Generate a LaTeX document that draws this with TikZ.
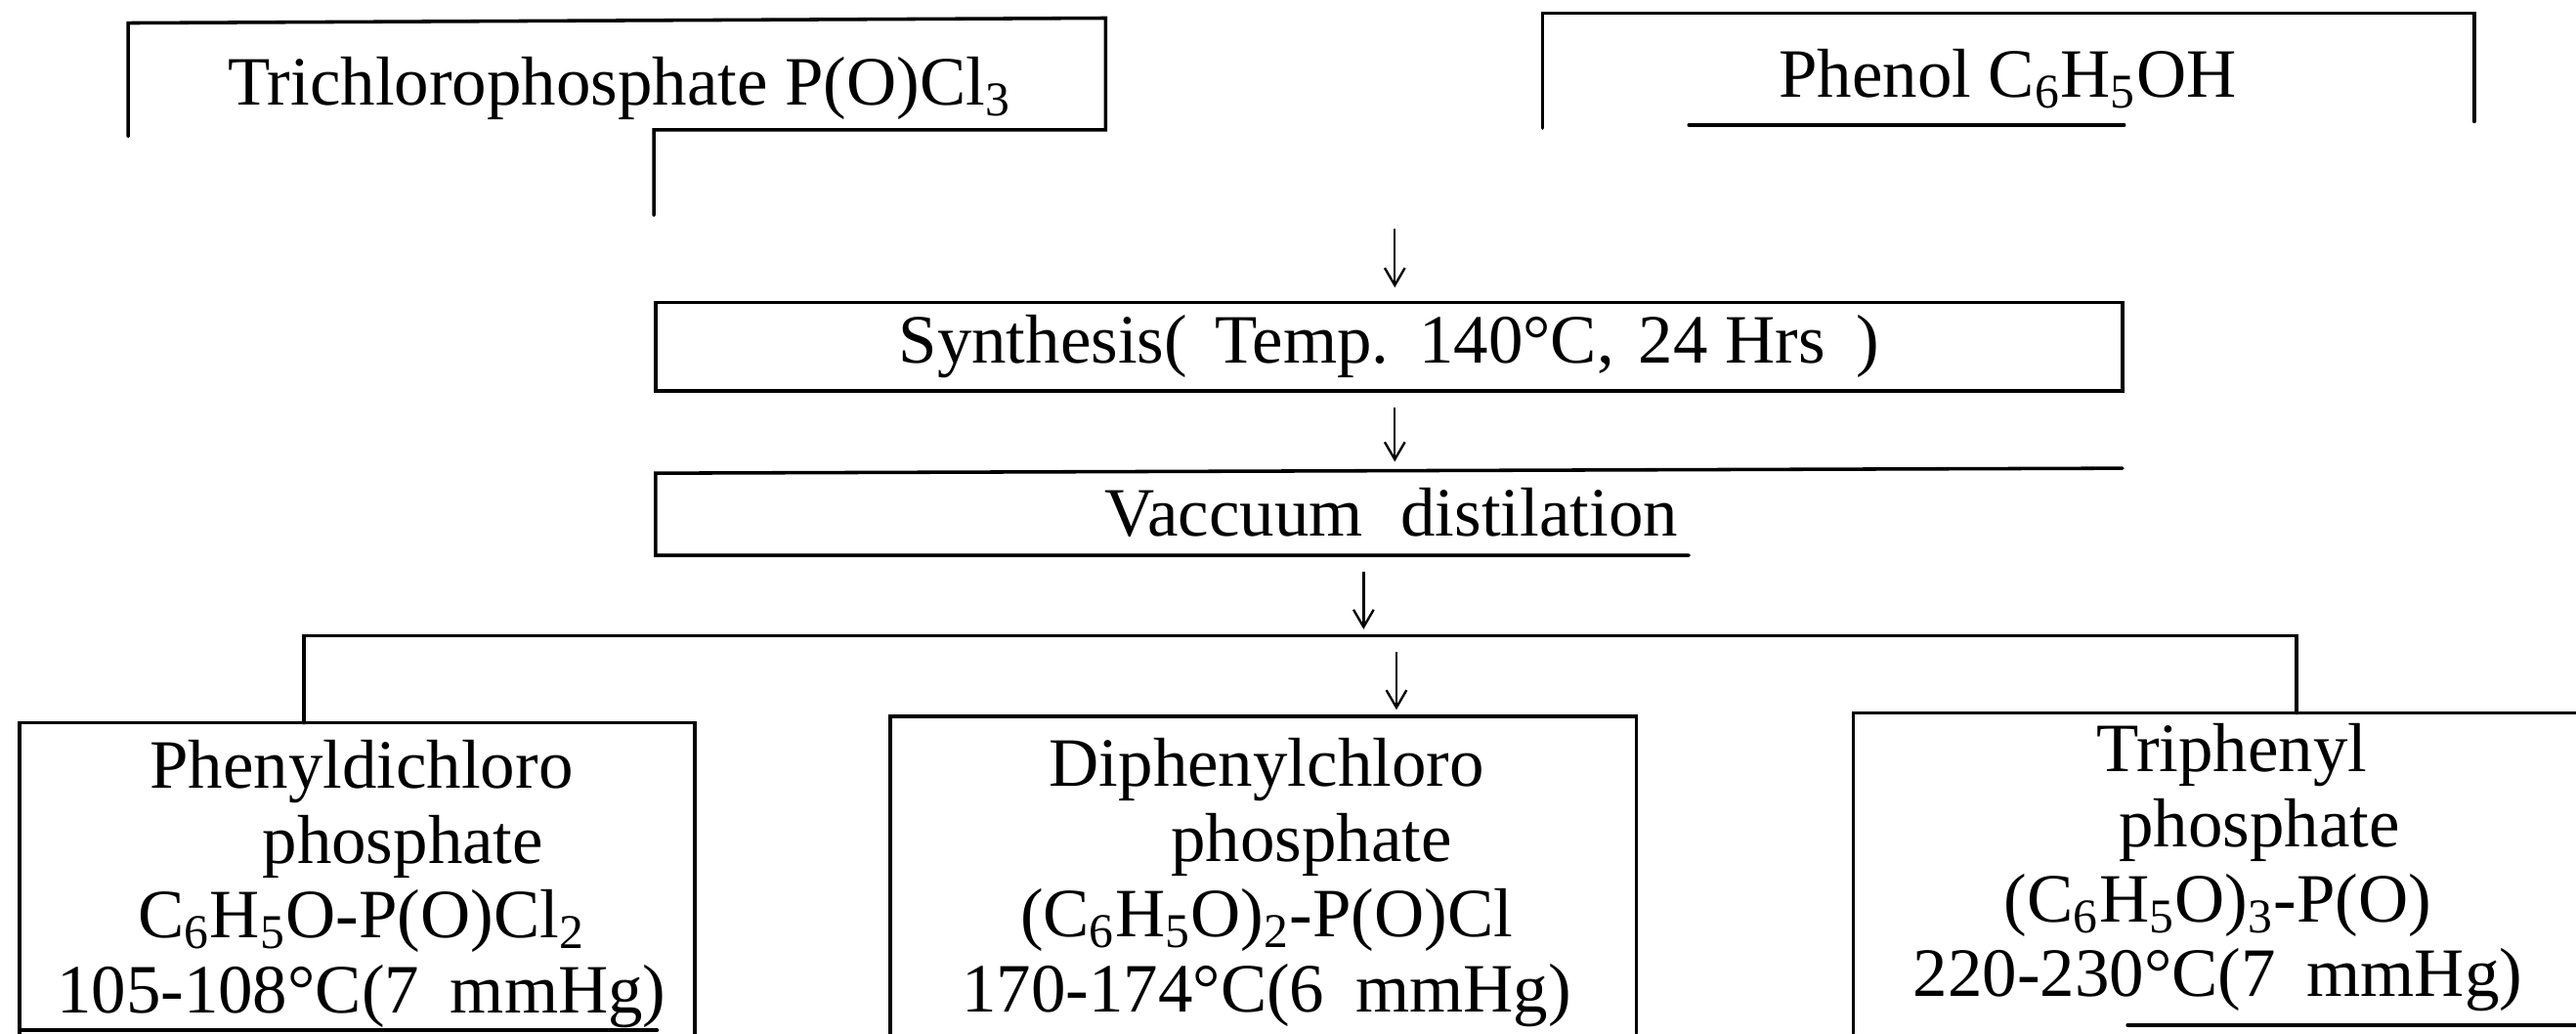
\documentclass[tikz,border=0pt]{standalone}
\usepackage{fontspec}
\setmainfont{Liberation Serif}
\usetikzlibrary{arrows.meta}
\begin{document}
\begin{tikzpicture}[x=0.02cm,y=-0.02cm,
  edge/.style={line width=1.2pt, line cap=round, line join=miter},
  flow/.style={line width=0.8pt, -{Straight Barb[length=6pt,width=7pt]}},
  lbl/.style={font=\fontsize{24}{26.5}\selectfont, inner sep=0pt, anchor=base},
  mlbl/.style={font=\fontsize{24}{26}\selectfont, inner sep=0pt, align=center, anchor=north}]
\useasboundingbox (0,0) rectangle (1568,629);

% ---- top source boxes ----
\node[lbl] (tri) at (377,64) {Trichlorophosphate P(O)Cl\textsubscript{3}};
\draw[edge] (78,83) -- (78,14) -- (673,11) -- (673,79) -- (398,79) -- (398,131);

\node[lbl] (phe) at (1222,59) {Phenol C\textsubscript{6}H\textsubscript{5}OH};
\draw[edge] (939,78) -- (939,8) -- (1506,8) -- (1506,74);
\draw[edge] (1028,76) -- (1293,76);

% ---- synthesis ----
\coordinate (a1s) at (849,139);
\coordinate (a1e) at (849,175);
\draw[flow] (a1s) -- (a1e);
\node[draw, line width=1.2pt, inner sep=0pt, minimum width=17.86cm, minimum height=1.08cm,
      font=\fontsize{24}{26.5}\selectfont] (syn) at (845.5,211)
      {Synthesis(\hspace{0.15em} Temp.\hspace{0.1em} 140°C,\hspace{0.1em} 24 Hrs\hspace{0.2em} )};

% ---- vacuum distillation ----
\coordinate (a2s) at (849,248);
\coordinate (a2e) at (849,281);
\draw[flow] (a2s) -- (a2e);
\node[lbl] (vac) at (847,326) {Vaccuum\hspace{0.3em} distilation};
\draw[edge] (1292,285) -- (399,288) -- (399,338) -- (1028,338);

% ---- split ----
\coordinate (a3s) at (830,348);
\coordinate (a3e) at (830,383);
\draw[flow] (a3s) -- (a3e);
\draw[edge] (185,440) -- (185,387) -- (1398,387) -- (1398,434);
\coordinate (a4s) at (850,397);
\coordinate (a4e) at (850,432);
\draw[flow] (a4s) -- (a4e);

% ---- products ----
\node[mlbl] (pa) at (220,450) {Phenyldichloro\\\hspace*{1.2em}phosphate\\C\textsubscript{6}H\textsubscript{5}O-P(O)Cl\textsubscript{2}\\105-108°C(7\hspace{0.2em} mmHg)};
\draw[edge] (12,629) -- (12,440) -- (423,440) -- (423,629);
\draw[edge] (12,627) -- (400,627);

\node[mlbl] (pb) at (771,449) {Diphenylchloro\\\hspace*{1.3em}phosphate\\(C\textsubscript{6}H\textsubscript{5}O)\textsubscript{2}-P(O)Cl\\170-174°C(6\hspace{0.2em} mmHg)};
\draw[edge] (542,629) -- (542,436) -- (996,436) -- (996,629);

\node[mlbl] (pc) at (1350,440) {\hspace*{0.4em}Triphenyl\\\hspace*{1.2em}phosphate\\(C\textsubscript{6}H\textsubscript{5}O)\textsubscript{3}-P(O)\\220-230°C(7\hspace{0.2em} mmHg)};
\draw[edge] (1128,629) -- (1128,434) -- (1568,434);
\draw[edge] (1295,624) -- (1568,624);
\end{tikzpicture}
\end{document}
